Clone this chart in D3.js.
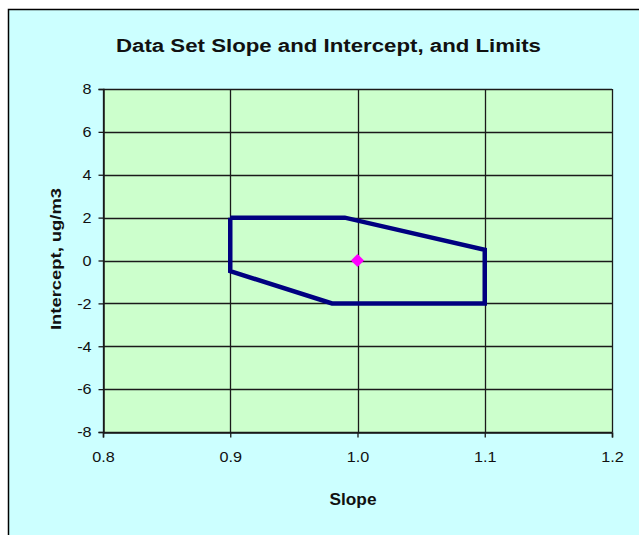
<!DOCTYPE html>
<html lang="en">
<head>
<meta charset="utf-8">
<title>Data Set Slope and Intercept, and Limits</title>
<script src="https://d3js.org/d3.v7.min.js"></script>
<style type="text/css">
  body { margin: 0; background: #ffffff; }
  svg text { font-family: "Liberation Sans", Arial, sans-serif; fill: #111; }
</style>
</head>
<body>
<div id="graph"></div>
<script type="text/javascript">

// chart data
var titleText = "Data Set Slope and Intercept, and Limits";
var xLabel = "Slope";
var yLabel = "Intercept, ug/m3";
var xTicks = [0.8, 0.9, 1.0, 1.1, 1.2];
var yTicks = [-8, -6, -4, -2, 0, 2, 4, 6, 8];

// limits polygon (slope, intercept), closed
var limitSlope     = [0.90, 0.99, 1.10, 1.10, 0.98, 0.90, 0.90];
var limitIntercept = [2.0,  2.0,  0.5, -2.0, -2.0, -0.5,  2.0];

// data set point
var pointSlope = [1.0];
var pointIntercept = [0.0];

var width = 639, height = 535;
var plot = {left: 103, right: 612, top: 89, bottom: 432};

var svg = d3.select("#graph")
  .append("svg")
  .attr("width", width)
  .attr("height", height);

// chart area
svg.append("rect")
  .attr("x", 8.5).attr("y", 9.5)
  .attr("width", 700).attr("height", 600)
  .attr("fill", "#ccffff")
  .attr("stroke", "#000").attr("stroke-width", 1.5);

var x = d3.scaleLinear().domain([0.8, 1.2]).range([plot.left, plot.right]);
var y = d3.scaleLinear().domain([-8, 8]).range([plot.bottom, plot.top]);

// plot area
svg.append("rect")
  .attr("x", plot.left).attr("y", plot.top)
  .attr("width", plot.right - plot.left)
  .attr("height", plot.bottom - plot.top)
  .attr("fill", "#ccffcc");

// gridlines
svg.append("g")
  .selectAll("line.h")
  .data(yTicks)
  .enter().append("line")
  .attr("x1", plot.left).attr("x2", plot.right)
  .attr("y1", function(d) { return Math.round(y(d)) + 0.5; })
  .attr("y2", function(d) { return Math.round(y(d)) + 0.5; })
  .attr("stroke", "#1a1a1a").attr("stroke-width", 1.3);

svg.append("g")
  .selectAll("line.v")
  .data(xTicks)
  .enter().append("line")
  .attr("y1", plot.top).attr("y2", plot.bottom)
  .attr("x1", function(d) { return Math.round(x(d)) + 0.5; })
  .attr("x2", function(d) { return Math.round(x(d)) + 0.5; })
  .attr("stroke", "#1a1a1a").attr("stroke-width", 1.3);

// axes (plain hyphen for negatives, like the original)
var xAxis = svg.append("g")
  .attr("transform", "translate(0," + (plot.bottom + 0.5) + ")")
  .call(d3.axisBottom(x).tickValues(xTicks)
    .tickFormat(function(d) { return d.toFixed(1); })
    .tickSize(5).tickPadding(14));
var yAxis = svg.append("g")
  .attr("transform", "translate(" + (plot.left + 0.5) + ",0)")
  .call(d3.axisLeft(y).tickValues(yTicks)
    .tickFormat(function(d) { return String(d); })
    .tickSize(5).tickPadding(6));

[xAxis, yAxis].forEach(function(a) {
  a.select(".domain").attr("stroke", "#1a1a1a").attr("stroke-width", 1.5);
  a.selectAll(".tick line").attr("stroke", "#1a1a1a").attr("stroke-width", 1.3);
  a.selectAll(".tick text")
    .style("font-size", "15px")
    .attr("fill", "#222")
    .attr("transform", "scale(1.08,1)");
});

// limits polygon
var line = d3.line()
  .x(function(d) { return x(d[0]); })
  .y(function(d) { return y(d[1]); });

svg.append("path")
  .datum(d3.zip(limitSlope, limitIntercept))
  .attr("d", line)
  .attr("fill", "none")
  .attr("stroke", "#000080")
  .attr("stroke-width", 4.5)
  .attr("stroke-linejoin", "miter");

// data point
svg.append("g")
  .selectAll("path")
  .data(d3.zip(pointSlope, pointIntercept))
  .enter().append("path")
  .attr("transform", function(d) { return "translate(" + x(d[0]) + "," + y(d[1]) + ")"; })
  .attr("d", d3.symbol().type(d3.symbolDiamond2).size(110))
  .attr("fill", "#ff00ff");

// title and axis labels
svg.append("text")
  .attr("x", 328.5).attr("y", 52)
  .attr("text-anchor", "middle")
  .style("font-size", "18px").attr("font-weight", "bold")
  .attr("textLength", 425).attr("lengthAdjust", "spacingAndGlyphs")
  .text(titleText);

svg.append("text")
  .attr("x", 353).attr("y", 505)
  .attr("text-anchor", "middle")
  .style("font-size", "17px").attr("font-weight", "bold")
  .attr("textLength", 47).attr("lengthAdjust", "spacingAndGlyphs")
  .text(xLabel);

svg.append("text")
  .attr("transform", "translate(61," + 259 + ") rotate(-90)")
  .attr("text-anchor", "middle")
  .style("font-size", "15px").attr("font-weight", "bold")
  .attr("textLength", 142).attr("lengthAdjust", "spacingAndGlyphs")
  .text(yLabel);

</script>
</body>
</html>
